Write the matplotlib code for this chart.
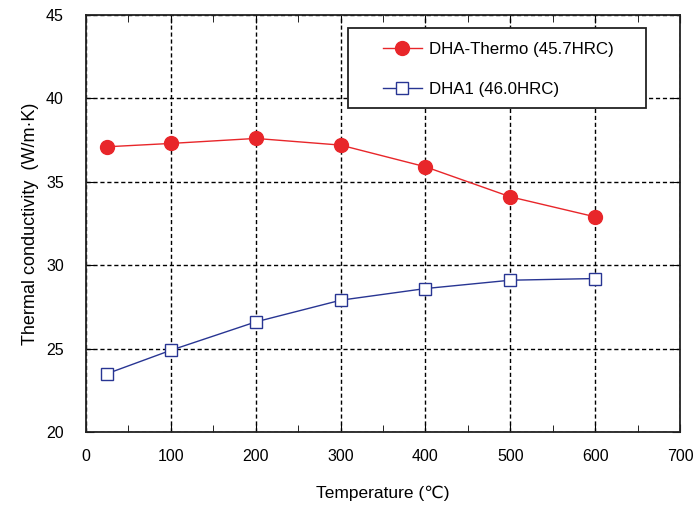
import matplotlib
matplotlib.use("Agg")
import matplotlib.pyplot as plt
from matplotlib.patches import Rectangle
from matplotlib.ticker import MultipleLocator

plt.rcParams["font.family"] = ["Liberation Sans", "DejaVu Sans"]

temps = [25, 100, 200, 300, 400, 500, 600]
thermo = [37.1, 37.3, 37.6, 37.2, 35.9, 34.1, 32.9]
dha1 = [23.5, 24.9, 26.6, 27.9, 28.6, 29.1, 29.2]

RED = "#e8262a"
BLUE = "#283593"

fig = plt.figure(figsize=(6.93, 5.13), dpi=100)
ax = fig.add_axes([86 / 693, 1 - 432 / 513, (680 - 86) / 693, (432 - 15) / 513])

ax.plot(temps, thermo, color=RED, linewidth=1.0, marker="o", markersize=10,
        markerfacecolor=RED, markeredgecolor=RED, label="DHA-Thermo (45.7HRC)", zorder=3)
ax.plot(temps, dha1, color=BLUE, linewidth=1.0, marker="s", markersize=8.5,
        markerfacecolor="white", markeredgecolor=BLUE, markeredgewidth=1.0,
        label="DHA1 (46.0HRC)", zorder=3)

ax.set_xlim(0, 700)
ax.set_ylim(20, 45)
ax.xaxis.set_major_locator(MultipleLocator(100))
ax.xaxis.set_minor_locator(MultipleLocator(50))
ax.yaxis.set_major_locator(MultipleLocator(5))

ax.grid(which="major", linestyle=(0, (3, 2)), color="black", linewidth=1.0)
ax.tick_params(which="both", direction="in", top=True, right=True, labelsize=11.5)
ax.tick_params(axis="x", pad=12)
ax.tick_params(axis="y", pad=16)
ax.tick_params(which="major", length=6)
ax.tick_params(which="minor", length=5)
for s in ax.spines.values():
    s.set_linewidth(1.3)
    s.set_color("#222222")

ax.set_xlabel("Temperature (\u2103)", fontsize=12.5, labelpad=16)
ax.set_ylabel("Thermal conductivity  (W/m\u00b7K)", fontsize=13, labelpad=5)

# legend box drawn separately so its padding can match the reference
box = Rectangle(((348 - 86) / 594, 1 - (108 - 15) / 417), 298 / 594, 80 / 417,
                transform=ax.transAxes, facecolor="white", edgecolor="#222222",
                linewidth=1.3, zorder=4)
ax.add_patch(box)
leg = ax.legend(loc="upper left", bbox_to_anchor=((383 - 86) / 594, 1 - (42 - 15) / 417),
                fontsize=12.2, frameon=False, borderpad=0, labelspacing=1.45,
                handlelength=2.3, handletextpad=0.4, borderaxespad=0)
leg.set_zorder(5)

fig.savefig("out.png", dpi=100)
